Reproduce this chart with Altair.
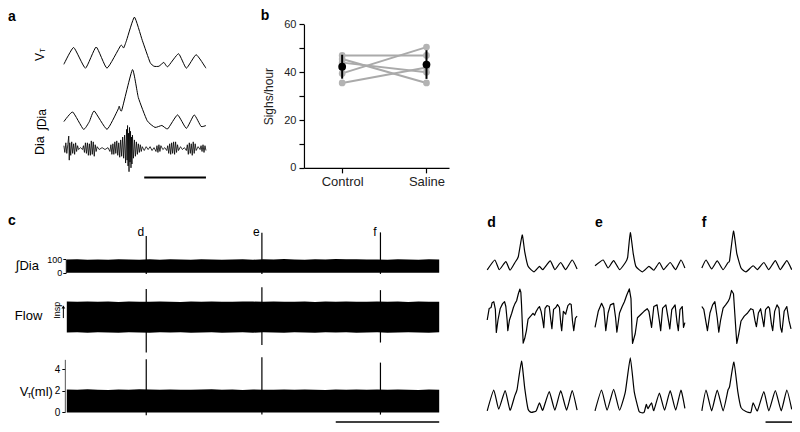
import altair as alt
import pandas as pd

# ---------------- data ----------------
# panel a: time in samples, amplitude in a.u. above baseline
a_vt = [(0, 4), (10, 21.5), (22, 0), (33, 22), (44, 0), (58, 23.5), (61, 21), (64, 29), (72, 53),
        (80, 29), (88, 6), (92, 2), (97, 2), (102, 6), (106, 1.5), (117, 15), (125, 0), (135, 14), (145, 0)]
a_dia_int = [(0, 8), (9, 18), (20, 0), (26, 8), (31, 19), (44, 0), (55, 20), (56.5, 24), (59, 19.5),
             (70, 62), (76, 33), (85, 9), (93, 2), (100, 4), (106, 0.5), (116, 15), (125, 1), (133, 15),
             (140, 3), (145, 4)]
a_emg = [(0, 3), (1, -4), (2, 6), (3, -5), (4, 4), (5, 13), (5.5, -12), (6, 6), (7, -7), (8, 7), (9, -5),
         (10, 5), (11, -6), (12, 6), (13, -3), (14, 3), (15, -1), (17, 1), (19, -1), (20, 3), (21, -4),
         (22, 6), (23, -5), (24, 6), (25, -7), (26, 5), (27, -7), (28, 8), (29, -6), (30, 7), (31, -8),
         (32, 4), (33, -3), (34, 2), (36, -1), (39, 1), (42, -1), (45, 1), (47, -3), (48, 4), (49, -6),
         (50, 5), (51, -6), (52, 7), (53, -5), (54, 8), (55, -7), (56, 6), (57, -9), (58, 9), (59, -8),
         (60, 12), (61, -10), (62, 14), (63, -15), (64, 20), (64.5, -12), (65, 24), (65.5, -18),
         (66, 16), (66.5, -24), (67, 22), (67.5, -14), (68, 18), (68.5, -20), (69, 12), (69.5, -16),
         (70, 14), (71, -10), (72, 9), (73, -8), (74, 7), (75, -6), (76, 5), (77, -4), (78, 4), (79, -3),
         (80, 2), (82, -2), (84, 2), (86, -1), (88, 2), (90, -2), (92, 1), (94, -3), (95, 3), (96, -4),
         (97, 4), (98, -3), (99, 3), (101, -1), (103, 1), (105, -2), (106, 3), (107, -5), (108, 5),
         (109, -6), (110, 6), (111, -5), (112, 7), (113, -6), (114, 7), (115, -4), (116, 4), (117, -2),
         (119, 2), (121, -1), (123, 1), (125, -2), (126, 4), (127, -6), (128, 6), (129, -5), (130, 5),
         (131, -7), (132, 7), (133, -5), (134, 5), (135, -2), (137, 2), (139, -1), (140, 3), (141, -3),
         (142, 4), (143, -4), (144, 3), (145, -2)]
a_bar = [82, 145]

# panel b
b_groups = ["Control", "Saline"]
b_subjects = ["1", "2", "3", "4", "5"]
b_control = [47, 45.5, 44, 39.5, 35.5]
b_saline = [47, 35.5, 40, 50.5, 42]
b_mean = [42.3, 43.2]
b_err = [5.0, 6.0]

# panel c: time in s
c_t = [0, 5, 10, 15, 20, 25, 30, 35, 40, 45, 50, 55, 60, 65, 70, 75, 80, 85, 90, 95, 100, 105, 110,
       115, 120, 125, 130, 135, 140, 145, 150, 155, 160, 165, 170, 175, 180]
c_dia_top = [98, 100, 96, 99, 97, 101, 98, 96, 100, 97, 101, 98, 97, 100, 98, 96, 99, 101, 97, 100, 98,
             102, 99, 97, 100, 98, 103, 100, 101, 98, 99, 97, 100, 98, 97, 101, 99]
c_flow_top = [1.01, 0.99, 1.02, 0.99, 1.01, 0.98, 1.02, 1.0, 0.99, 1.02, 1.0, 0.98, 1.01, 0.99, 1.02,
              1.0, 0.99, 1.02, 1.01, 0.99, 1.01, 0.99, 1.0, 1.02, 0.98, 1.01, 0.99, 1.01, 1.0, 0.99,
              1.02, 0.99, 1.01, 0.98, 1.01, 1.0, 0.99]
c_flow_bot = [-1.0, -0.99, -1.01, -0.99, -1.0, -1.01, -0.99, -1.0, -1.01, -0.99, -1.0, -0.99, -1.01,
              -1.0, -0.99, -1.01, -1.0, -0.99, -1.01, -0.99, -1.0, -1.01, -0.99, -1.0, -1.01, -0.99,
              -1.0, -0.99, -1.01, -1.0, -0.99, -1.01, -1.0, -0.99, -1.0, -1.01, -0.99]
c_vt_top = [2.11, 2.09, 2.13, 2.1, 2.08, 2.12, 2.1, 2.13, 2.11, 2.09, 2.12, 2.1, 2.09, 2.11, 2.13,
            2.1, 2.11, 2.08, 2.12, 2.1, 2.09, 2.11, 2.1, 2.12, 2.1, 2.08, 2.11, 2.1, 2.12, 2.09,
            2.11, 2.1, 2.12, 2.1, 2.08, 2.11, 2.1]
c_sigh_t = [38.4, 94.3, 151.6]
c_sigh_name = ["d", "e", "f"]
c_dia_hi = [273, 298, 300]
c_dia_lo = [-8, -8, -8]
c_flow_hi = [1.83, 1.94, 1.75]
c_flow_lo = [-2.3, -1.81, -1.65]
c_vt_hi = [4.9, 5.1, 4.6]
c_vt_lo = [-0.25, -0.2, -0.2]
c_bar = [130, 180]

# panels d, e, f: time in samples, amplitude in a.u.
d_dia = [(0, 2), (7.7, 12.3), (12.3, 2.3), (19, 10.7), (23.3, 1.7), (28.3, 9.7), (31.7, 15.7),
         (35.7, 38.3), (38.3, 20.7), (41.7, 5.7), (47.7, 0), (53.3, 5.7), (56.7, 2.3), (64.3, 11.3),
         (69, 2.3), (75, 9.7), (80, 2.3), (86.7, 12.3), (91.7, 3)]
d_flow = [(0, -4), (2, 8), (4, 9), (5, 14), (6.7, 15), (8.3, 7), (9.3, -17), (11, -4), (13.3, 8),
          (15.7, 13), (17.7, 15), (19, 10), (20.3, -4), (21, -15), (22.7, -4), (25, 3), (26.7, 9),
          (28.3, 13), (30, 16), (31.7, 23), (33.3, 28), (34.3, 25), (35, 12), (36, -12), (36.7, -28),
          (38.3, -23), (40, -15), (41.7, -3), (44.3, 0), (46.7, 3), (48.3, 1), (50, 5), (51.7, 8),
          (53.3, 10), (55, 5), (56.7, -5), (57.7, -12), (59, 8), (61, 11), (63.3, 10), (65, -5),
          (66, -13), (67.7, 7), (70, 9), (71.7, 12), (73.7, 9), (75, -7), (76, -15), (77.7, 5),
          (80, 2), (82.3, 11), (84.3, 13), (85.7, 12), (87, -5), (88.3, -15), (90, -2), (91.7, 0)]
d_vt = [(0, 1.7), (6.7, 23.3), (11.7, 3.3), (18.3, 22.7), (23.3, 2.3), (28, 17), (30.5, 24), (35, 53.3),
        (38.3, 25), (41.7, 3.3), (45, 0), (50, 1.7), (53.3, 10), (56.7, 2.3), (63.3, 21.7), (69, 2.3),
        (75, 22.7), (81, 2.3), (86.7, 22.7), (91.7, 2.3)]
e_dia = [(0, 6.3), (8.3, 12.3), (13.3, 4), (19, 11.7), (25, 2.3), (31, 9.7), (33.3, 15), (36, 40.7),
         (39, 19), (41.7, 5.7), (48.3, 0), (55, 5.7), (60, 1.7), (65.7, 9.7), (70, 2.3), (76.7, 9.7),
         (82.3, 2.3), (87.7, 12.3), (91.7, 4)]
e_flow = [(0, -11.7), (3.3, 5), (6.7, 13.3), (9, 8.3), (11, -15), (13.3, 3.3), (15.7, 11.7), (19, 13.3),
          (21, -1.7), (22.3, -16.7), (25, 3.3), (27.7, 10), (30, 15), (32.3, 21.7), (35, 28.3),
          (36.7, 18.3), (37.7, -15), (38.3, -28.3), (41, -18.3), (43.3, -1.7), (46.7, 1.7), (50, 5),
          (53.3, 7.7), (55, 5), (57.7, -11.7), (60, 10), (63.3, 11.7), (65.7, -5), (67, -15), (69, 8.3),
          (72.3, 11.7), (75, -5), (76.3, -13.3), (78.3, 6.7), (81.7, 11.7), (83.7, -6.7), (85, -15),
          (86.7, 6.7), (89, 10), (90.3, -11.7), (91.7, -6.7)]
e_vt = [(0, 1.7), (6.7, 23.3), (12.3, 2.3), (19, 24), (25, 2.3), (31, 21.7), (36, 56.7), (40, 21.7),
        (45, 1), (50, 0), (52.3, 8.3), (54, 4), (57.7, 10), (60, 2), (65.7, 20), (71, 2.3), (76.7, 22.7),
        (82.3, 2.3), (87.7, 23.3), (91.7, 4.3)]
f_dia = [(0, 4), (4.3, 12.3), (10, 3), (15.7, 11.3), (21.7, 2.3), (26.7, 9.7), (28.3, 11.7),
         (32.3, 42.3), (35.7, 19), (40, 4), (45, 0), (52.3, 6.3), (56.7, 2.3), (63.3, 9.7), (68.3, 2.3),
         (75, 11.7), (80, 2.3), (86.7, 11.7), (91.7, 2.3)]
f_flow = [(0, 10), (2, 7), (5.7, -15), (8.3, 3.3), (11, 11.7), (13.3, 15), (15.7, -1.7), (17.3, -16.7),
          (19, -5), (21.7, 8.3), (24.3, 11.7), (26.7, 15), (28.3, 18.3), (30.3, 26.7), (32.3, 23.3),
          (33.7, 1.7), (35, -18.3), (35.7, -28.3), (37.7, -18.3), (40, -5), (43.3, 0), (46.7, 3.3),
          (50, 7.7), (52.3, 6.7), (54.3, -5), (55.7, -11), (57.7, 3.3), (60, 7.7), (61.7, -1.7),
          (63.3, -11), (65, 6.7), (67.7, 10), (69, 8.3), (71, -8.3), (72.3, -15), (74.3, 5),
          (76.7, 11.7), (78.7, 8.3), (80.3, -11.7), (81.7, -16.7), (84, 5), (86.7, 10), (89, -5),
          (91, -13.3)]
f_vt = [(0, 1.7), (4.3, 23.3), (10, 1.7), (15.7, 23.3), (21.7, 1.7), (26.7, 23.3), (28.3, 26.7),
        (32.7, 52.3), (36.7, 21.7), (40, 5), (45, 1), (50, 0), (52.3, 10), (56.7, 1.7), (63.3, 21.7),
        (68.3, 1.7), (75, 22.7), (81, 1.7), (86.7, 23.3), (91.7, 3.3)]
def_bar = [65, 92]

# ---------------- layout helpers ----------------
W, H = 784, 416
SX, SY = W / 800, H / 432
FONT = "Liberation Sans"


def X(v):
    return round(v * SX, 2)


def Y(v):
    return round(v * SY, 2)


def lin(dom, rng):
    return alt.Scale(domain=dom, range=rng, nice=False, zero=False)


def txt(s, x, y, size=12, bold=False, angle=0, align="center", baseline="middle"):
    kw = dict(font=FONT, fontSize=size, fontWeight="bold" if bold else "normal",
              align=align, baseline=baseline, color="black", fill="black", opacity=1)
    if angle:
        kw["angle"] = angle
    return alt.Chart(pd.DataFrame({"s": [s]})).mark_text(**kw).encode(
        text="s:N", x=alt.value(X(x)), y=alt.value(Y(y)))


def trace(pairs, x0, span, base, interp="cardinal", width=1.1, tension=0.55):
    df = pd.DataFrame(pairs, columns=["t", "v"])
    kw = dict(color="black", strokeWidth=width, interpolate=interp, strokeJoin="round")
    if interp == "cardinal":
        kw["tension"] = tension
    return alt.Chart(df).mark_line(**kw).encode(
        x=alt.X("t:Q", axis=None, scale=lin([0, span], [X(x0), X(x0 + span)])),
        y=alt.Y("v:Q", axis=None, scale=lin([0, 10], [Y(base), Y(base - 10)])))


layers = []

# ---------------- panel a ----------------
layers.append(trace(a_vt, 57, 145, 62.5, width=1.0))
layers.append(trace(a_dia_int, 57, 145, 126, width=1.0))
layers.append(trace(a_emg, 57, 145, 146, interp="linear", width=0.8))
layers.append(alt.Chart(pd.DataFrame({"x1": [a_bar[0]], "x2": [a_bar[1]]})).mark_rule(
    color="black", strokeWidth=2).encode(
    x=alt.X("x1:Q", axis=None, scale=lin([0, 145], [X(57), X(202)])), x2="x2:Q",
    y=alt.value(Y(176))))
layers += [
    txt("a", 0, 13, size=14, bold=True, align="left", baseline="alphabetic"),
    txt("V", 32.5, 51, size=12, angle=270),
    txt("T", 35.5, 44, size=7, angle=270),
    txt("∫Dia", 35, 116, size=12, angle=270),
    txt("Dia", 33, 143, size=12.5, angle=270),
]

# ---------------- panel b ----------------
rows = []
for i, s in enumerate(b_subjects):
    rows.append({"subject": s, "g": 0, "v": b_control[i]})
    rows.append({"subject": s, "g": 1, "v": b_saline[i]})
b_long = pd.DataFrame(rows)
b_stats = pd.DataFrame({"g": [0, 1], "m": b_mean, "e": b_err})
bx = lin([-0.453, 1.267], [X(302), X(450)])
by = lin([0, 60], [Y(166), Y(17)])

b_yaxis = alt.Axis(orient="left", offset=-X(302), values=[0, 10, 20, 30, 40, 50, 60],
                   labelExpr="datum.value % 20 == 0 ? datum.label : ''", tickSize=5,
                   tickColor="black", domainColor="black", tickWidth=1.2, domainWidth=1.2,
                   labelFontSize=11, labelColor="#222", labelPadding=3, title="Sighs/hour",
                   titleFontSize=12, titleFontWeight="normal", titleColor="#222", titlePadding=8)
b_xaxis = alt.Axis(orient="bottom", offset=-(H - Y(166)), values=[0, 1],
                   labelExpr="datum.value == 0 ? 'Control' : 'Saline'", tickSize=5,
                   tickColor="black", domainColor="black", tickWidth=1.2, domainWidth=1.2,
                   labelFontSize=13, labelColor="#222", labelPadding=3, title=None)

layers.append(alt.Chart(b_long).mark_line(color="#aaaaaa", strokeWidth=2).encode(
    x=alt.X("g:Q", scale=bx, axis=b_xaxis),
    y=alt.Y("v:Q", scale=by, axis=b_yaxis),
    detail="subject:N"))
layers.append(alt.Chart(b_long).mark_circle(color="#b3b3b3", size=45, opacity=1).encode(
    x=alt.X("g:Q", scale=bx, axis=None), y=alt.Y("v:Q", scale=by, axis=None)))
layers.append(alt.Chart(b_stats).transform_calculate(
    lo="datum.m - datum.e", hi="datum.m + datum.e").mark_rule(color="black", strokeWidth=2).encode(
    x=alt.X("g:Q", scale=bx, axis=None), y=alt.Y("lo:Q", scale=by, axis=None), y2="hi:Q"))
layers.append(alt.Chart(b_stats).mark_circle(color="black", size=60, opacity=1).encode(
    x=alt.X("g:Q", scale=bx, axis=None), y=alt.Y("m:Q", scale=by, axis=None)))
layers.append(txt("b", 258, 12, size=14, bold=True, align="left", baseline="alphabetic"))

# ---------------- panel c ----------------
cx = lin([0, 180], [X(60), X(440)])
c_dia_scale = lin([0, 100], [Y(275), Y(261)])
c_flow_scale = lin([-1, 1], [Y(337), Y(305)])
c_vt_scale = lin([0, 4.9], [Y(420), Y(420 - 4.9 * 11.25)])

band_df = pd.DataFrame({"t": c_t, "dia": c_dia_top, "ftop": c_flow_top, "fbot": c_flow_bot,
                        "vt": c_vt_top})
dia_axis = alt.Axis(orient="left", offset=-X(59), values=[0, 100], tickSize=3, tickColor="black",
                    domainColor="black", labelFontSize=9, labelColor="black", labelPadding=1,
                    title=None)
vt_axis = alt.Axis(orient="left", offset=-X(58), values=[0, 2, 4], tickSize=3, tickColor="black",
                   domainColor="#555", labelFontSize=10, labelColor="black", labelPadding=2,
                   title=None)
layers.append(alt.Chart(band_df).mark_area(color="black", interpolate="linear").encode(
    x=alt.X("t:Q", scale=cx, axis=None),
    y=alt.Y("dia:Q", scale=c_dia_scale, axis=dia_axis), y2=alt.datum(0)))
layers.append(alt.Chart(band_df).mark_area(color="black", interpolate="linear").encode(
    x=alt.X("t:Q", scale=cx, axis=None),
    y=alt.Y("ftop:Q", scale=c_flow_scale, axis=None), y2="fbot:Q"))
layers.append(alt.Chart(band_df).mark_area(color="black", interpolate="linear").encode(
    x=alt.X("t:Q", scale=cx, axis=None),
    y=alt.Y("vt:Q", scale=c_vt_scale, axis=vt_axis), y2=alt.datum(0)))

sigh_df = pd.DataFrame({"t": c_sigh_t, "name": c_sigh_name, "dhi": c_dia_hi, "dlo": c_dia_lo,
                        "fhi": c_flow_hi, "flo": c_flow_lo, "vhi": c_vt_hi, "vlo": c_vt_lo})
for hi, lo, sc in (("dhi", "dlo", c_dia_scale), ("fhi", "flo", c_flow_scale), ("vhi", "vlo", c_vt_scale)):
    layers.append(alt.Chart(sigh_df).mark_rule(color="black", strokeWidth=1.2).encode(
        x=alt.X("t:Q", scale=cx, axis=None),
        y=alt.Y(f"{hi}:Q", scale=sc, axis=None), y2=f"{lo}:Q"))
layers.append(alt.Chart(sigh_df).mark_text(font=FONT, fontSize=12, dx=-5.5, baseline="alphabetic",
                                            color="black", fill="black", opacity=1).encode(
    x=alt.X("t:Q", scale=cx, axis=None), y=alt.value(Y(237)), text="name:N"))
layers.append(alt.Chart(pd.DataFrame({"x1": [c_bar[0]], "x2": [c_bar[1]]})).mark_rule(
    color="black", strokeWidth=1.5).encode(
    x=alt.X("x1:Q", scale=cx, axis=None), x2="x2:Q", y=alt.value(Y(430))))

layers += [
    txt("c", 0, 225, size=14, bold=True, align="left", baseline="alphabetic"),
    txt("∫Dia", 8, 268, size=13, align="left"),
    txt("Flow", 7, 320, size=13, align="left"),
    txt("V", 12, 399, size=13, align="left"),
    txt("T", 19.5, 403, size=8, align="left"),
    txt("(ml)", 23, 399, size=13, align="left"),
    txt("Insp", 49.5, 314, size=9, angle=270),
]
layers.append(alt.Chart(pd.DataFrame({"k": [0]})).mark_rule(color="black", strokeWidth=1).encode(
    x=alt.value(X(56.5)), y=alt.value(Y(322)), y2=alt.value(Y(310))))
layers.append(alt.Chart(pd.DataFrame({"k": [0]})).mark_point(
    shape="triangle-up", filled=True, size=14, color="black", opacity=1).encode(
    x=alt.value(X(56.5)), y=alt.value(Y(310.5))))

# ---------------- panels d, e, f ----------------
for x0, dia, flow, vt, name in ((489, d_dia, d_flow, d_vt, "d"), (599, e_dia, e_flow, e_vt, "e"),
                                (708, f_dia, f_flow, f_vt, "f")):
    layers.append(trace(dia, x0, 92, 274, width=1.2))
    layers.append(trace(flow, x0, 92, 320, interp="linear", width=1.2))
    layers.append(trace(vt, x0, 92, 420, width=1.2))
    layers.append(txt(name, x0, 227, size=14, bold=True, align="left", baseline="alphabetic"))
layers.append(alt.Chart(pd.DataFrame({"x1": [def_bar[0]], "x2": [def_bar[1]]})).mark_rule(
    color="black", strokeWidth=1.5).encode(
    x=alt.X("x1:Q", scale=lin([0, 92], [X(708), X(800)]), axis=None), x2="x2:Q",
    y=alt.value(Y(430))))

chart = alt.layer(*layers).resolve_scale(x="independent", y="independent").resolve_axis(
    x="independent", y="independent").properties(
    width=W, height=H, padding=0, autosize="none", background="white").configure_view(
    stroke=None).configure_axis(grid=False, labelFont=FONT, titleFont=FONT)

chart.save("out.html", embed_options={"renderer": "svg", "actions": False})
